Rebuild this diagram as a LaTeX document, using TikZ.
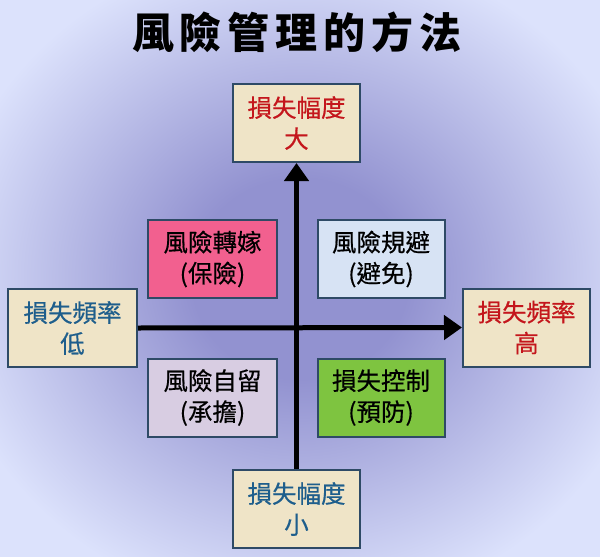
\documentclass[tikz,border=0pt]{standalone}
\usepackage{fontspec}
\setmainfont{Noto Sans CJK TC}
\newfontfamily\boxfont{Noto Sans CJK TC}[FakeBold=0.5]
\usetikzlibrary{arrows.meta}

\definecolor{bgin}{RGB}{146,146,208}
\definecolor{bgout}{RGB}{220,226,252}
\definecolor{paper}{RGB}{239,228,199}
\definecolor{edge}{RGB}{46,74,102}
\definecolor{hightxt}{RGB}{196,22,28}
\definecolor{lowtxt}{RGB}{30,94,140}
\definecolor{transfer}{RGB}{242,96,143}
\definecolor{avoid}{RGB}{215,227,244}
\definecolor{retain}{RGB}{216,205,226}
\definecolor{control}{RGB}{126,196,64}

\pgfdeclareradialshading{backdrop}{\pgfpoint{0bp}{0bp}}{%
  color(0bp)=(bgin); color(9bp)=(bgin); color(30bp)=(bgout); color(50bp)=(bgout)}

\tikzset{
  box/.style={draw=edge, line width=2pt, minimum width=127pt, minimum height=78pt,
    align=center, font=\boxfont\fontsize{24.5}{31}\selectfont, inner sep=0pt},
  axisbox/.style={box, fill=paper},
  axis/.style={line width=5pt, -{Triangle[width=24pt,length=18pt]}}
}

\begin{document}
\begin{tikzpicture}[x=1pt, y=-1pt]
  \shade[shading=backdrop] (0,0) rectangle (600,557);
  \useasboundingbox (0,0) rectangle (600,557);

  \node (title) at (297,32) {\fontsize{42}{42}\selectfont\bfseries
    風\hspace{6pt}險\hspace{6pt}管\hspace{6pt}理\hspace{6pt}的\hspace{6pt}方\hspace{6pt}法};

  % axis ends
  \node[axisbox, text=hightxt] (bigloss) at (296.5,123) {損失幅度\\大};
  \node[axisbox, text=lowtxt] (smallloss) at (296.5,509) {損失幅度\\小};
  \node[axisbox, text=lowtxt, minimum width=129pt] (lowfreq) at (72.5,328) {損失頻率\\低};
  \node[axisbox, text=hightxt] (highfreq) at (526.5,327.5) {損失頻率\\高};

  % the four methods
  \node[box, fill=transfer, minimum width=129pt] (transfer) at (212.5,259) {風險轉嫁\\(保險)};
  \node[box, fill=avoid] (avoid) at (381,259) {風險規避\\(避免)};
  \node[box, fill=retain, minimum width=129pt] (retain) at (212.5,397.5) {風險自留\\(承擔)};
  \node[box, fill=control] (control) at (381,397.5) {損失控制\\(預防)};

  \draw[axis] (smallloss.north) -- (bigloss.south);
  \draw[axis] (lowfreq.east) -- (highfreq.west);
\end{tikzpicture}
\end{document}
